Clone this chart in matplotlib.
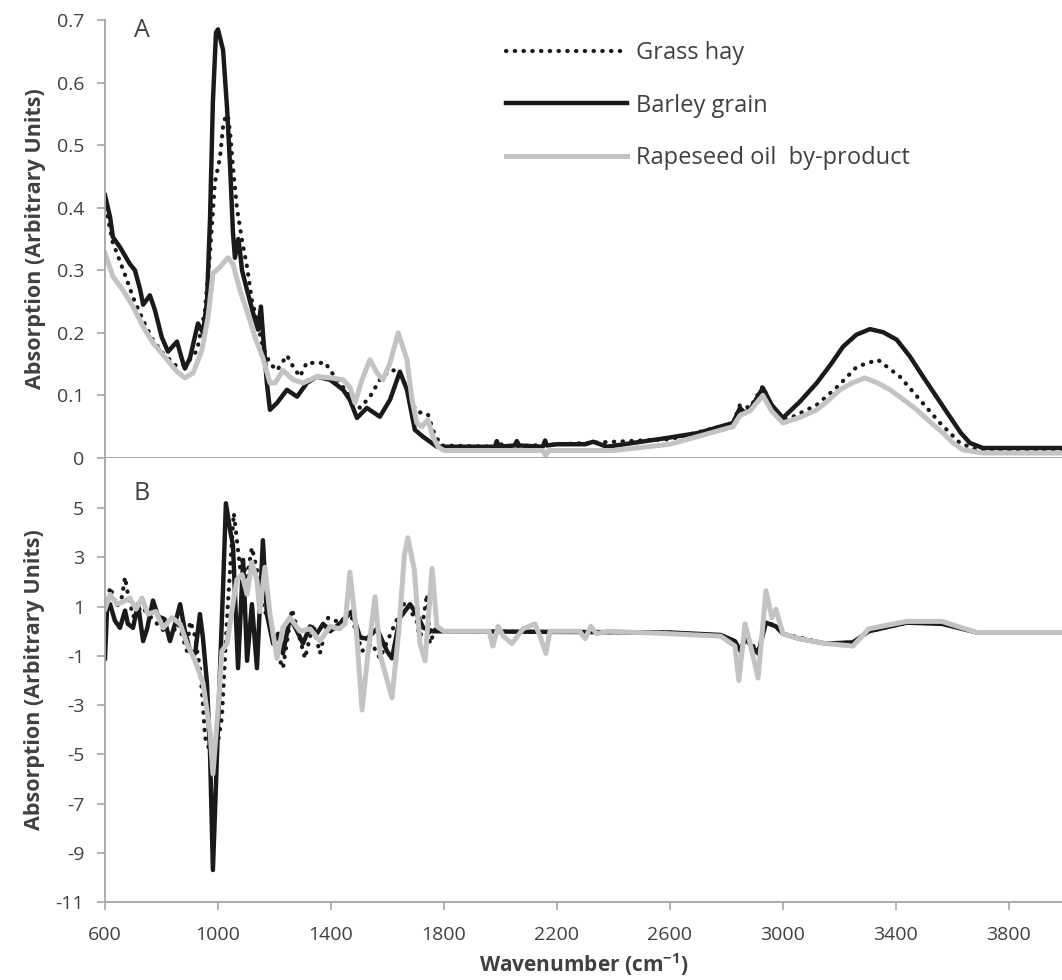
import numpy as np
import matplotlib
matplotlib.use("Agg")
import matplotlib.pyplot as plt

plt.rcParams['font.family'] = ['Open Sans', 'DejaVu Sans']
plt.rcParams['mathtext.fontset'] = 'custom'
plt.rcParams['mathtext.rm'] = 'Open Sans'
plt.rcParams['mathtext.bf'] = 'Open Sans:bold'

# panel A: (wavenumber, absorption)
grass_a = [(600, 0.40), (607, 0.39), (628, 0.343), (640, 0.33), (678, 0.284), (699, 0.257), (735, 0.22),
           (770, 0.188), (806, 0.167), (855, 0.146), (890, 0.151), (926, 0.172), (954, 0.236), (972, 0.33),
           (989, 0.44), (1007, 0.48), (1018, 0.53), (1032, 0.556), (1043, 0.52), (1053, 0.465), (1067, 0.40),
           (1085, 0.348), (1103, 0.305), (1120, 0.252), (1138, 0.22), (1159, 0.177), (1184, 0.151), (1209, 0.14),
           (1244, 0.164), (1266, 0.146), (1290, 0.13), (1315, 0.153), (1350, 0.151), (1379, 0.153), (1397, 0.14),
           (1443, 0.113), (1478, 0.093), (1503, 0.08), (1538, 0.098), (1573, 0.125), (1609, 0.14), (1627, 0.14),
           (1650, 0.13), (1675, 0.105), (1700, 0.075), (1722, 0.072), (1743, 0.07), (1765, 0.04), (1790, 0.02),
           (1990, 0.018), (2000, 0.024), (2010, 0.018), (2600, 0.03), (2823, 0.055), (2848, 0.085), (2883, 0.08),
           (2929, 0.115), (2960, 0.08), (3000, 0.062), (3036, 0.066), (3120, 0.085), (3191, 0.113), (3262, 0.146),
           (3336, 0.157), (3414, 0.13), (3485, 0.093), (3556, 0.056), (3627, 0.024), (3687, 0.013), (4000, 0.013)]

barley_a = [(600, 0.42), (618, 0.385), (628, 0.353), (653, 0.337), (688, 0.31), (706, 0.30), (724, 0.27),
            (735, 0.245), (759, 0.26), (777, 0.236), (801, 0.193), (823, 0.17), (855, 0.186), (873, 0.157),
            (883, 0.143), (901, 0.16), (929, 0.215), (947, 0.20), (961, 0.25), (972, 0.385), (982, 0.57),
            (993, 0.68), (1000, 0.685), (1018, 0.652), (1032, 0.56), (1043, 0.465), (1053, 0.36), (1060, 0.32),
            (1072, 0.35), (1078, 0.33), (1085, 0.30), (1103, 0.268), (1124, 0.232), (1142, 0.205), (1152, 0.242),
            (1159, 0.20), (1173, 0.12), (1184, 0.077), (1209, 0.088), (1244, 0.109), (1280, 0.098), (1315, 0.12),
            (1350, 0.13), (1397, 0.125), (1443, 0.109), (1467, 0.093), (1492, 0.064), (1527, 0.08), (1573, 0.066),
            (1609, 0.093), (1644, 0.138), (1669, 0.109), (1697, 0.045), (1726, 0.034), (1775, 0.018), (1800, 0.018),
            (1980, 0.018), (1987, 0.027), (1995, 0.018), (2050, 0.02), (2058, 0.027), (2066, 0.02), (2150, 0.018),
            (2158, 0.028), (2164, 0.02), (2200, 0.022), (2300, 0.022), (2328, 0.026), (2377, 0.018), (2589, 0.032),
            (2700, 0.04), (2823, 0.056), (2848, 0.08), (2865, 0.072), (2883, 0.077), (2929, 0.112), (2960, 0.085),
            (3000, 0.064), (3060, 0.09), (3120, 0.12), (3170, 0.15), (3213, 0.178), (3260, 0.197), (3308, 0.206),
            (3355, 0.201), (3403, 0.189), (3450, 0.162), (3496, 0.13), (3545, 0.097), (3591, 0.066), (3630, 0.04),
            (3662, 0.024), (3708, 0.016), (4000, 0.016)]

rapeseed_a = [(600, 0.327), (628, 0.29), (664, 0.268), (699, 0.242), (735, 0.21), (770, 0.184), (820, 0.157),
              (855, 0.138), (883, 0.128), (912, 0.136), (943, 0.172), (965, 0.226), (982, 0.295), (1007, 0.305),
              (1035, 0.32), (1053, 0.31), (1078, 0.268), (1113, 0.22), (1131, 0.193), (1159, 0.16), (1184, 0.12),
              (1202, 0.12), (1230, 0.14), (1266, 0.125), (1301, 0.12), (1350, 0.13), (1397, 0.128), (1443, 0.125),
              (1467, 0.113), (1485, 0.088), (1510, 0.125), (1538, 0.157), (1563, 0.136), (1584, 0.125), (1609, 0.152),
              (1638, 0.20), (1669, 0.157), (1687, 0.093), (1704, 0.056), (1722, 0.05), (1743, 0.061), (1761, 0.034),
              (1779, 0.018), (1800, 0.012), (2150, 0.012), (2160, 0.004), (2170, 0.012), (2400, 0.012), (2600, 0.022),
              (2823, 0.05), (2848, 0.068), (2883, 0.075), (2929, 0.10), (2960, 0.075), (3000, 0.056), (3060, 0.065),
              (3120, 0.077), (3160, 0.092), (3202, 0.109), (3245, 0.12), (3290, 0.128), (3335, 0.12), (3379, 0.109),
              (3425, 0.094), (3474, 0.077), (3520, 0.058), (3567, 0.04), (3600, 0.025), (3637, 0.013), (3708, 0.008),
              (4000, 0.008)]

# panel B
grass_b = [(600, 0.6), (618, 1.8), (642, 1.0), (660, 1.4), (671, 2.2), (681, 1.5), (700, 0.6), (730, 1.0),
           (760, 0.6), (801, 0.1), (830, -0.2), (860, 0.3), (890, -0.8), (901, 0.4), (915, 0.0), (936, -1.5),
           (947, -3.0), (954, -4.3), (975, -5.0), (1000, -4.5), (1014, -3.5), (1025, -1.0), (1035, 1.1), (1050, 3.8),
           (1056, 4.8), (1067, 3.7), (1078, 2.6), (1085, 2.9), (1103, 2.2), (1120, 3.4), (1138, 2.5), (1159, 0.9),
           (1184, 0.5), (1209, -0.9), (1230, -1.5), (1262, 0.9), (1308, -1.1), (1337, 0.3), (1361, -0.9), (1390, 0.55),
           (1432, 0.35), (1467, 0.8), (1510, -0.8), (1545, -0.5), (1573, -1.1), (1615, 0.0), (1662, 1.2), (1704, 0.4),
           (1715, -0.4), (1740, 1.5), (1750, -0.5), (1770, 0.1), (1800, 0.0), (2600, -0.05), (2800, -0.2),
           (2850, -0.7), (2870, -0.3), (2912, -0.8), (2940, 0.4), (2975, 0.2), (3000, -0.1), (3152, -0.5),
           (3248, -0.45), (3304, 0.0), (3439, 0.35), (3563, 0.35), (3687, -0.05), (4000, -0.05)]

barley_b = [(600, -1.1), (607, 0.84), (618, 1.1), (635, 0.43), (653, 0.14), (671, 0.84), (681, 0.3), (699, 0.14),
            (717, 1.1), (735, -0.4), (749, 0.1), (770, 1.25), (788, 0.6), (810, 0.5), (830, -0.4), (848, 0.3),
            (866, 1.1), (883, 0.0), (901, -0.8), (919, -0.9), (936, 0.7), (947, -0.3), (961, -2.1), (972, -5.0),
            (982, -9.7), (992, -6.5), (1007, -1.6), (1018, 1.8), (1028, 5.2), (1043, 4.1), (1053, 3.5), (1071, -1.5),
            (1089, 2.9), (1103, -1.2), (1120, 1.1), (1138, -1.5), (1159, 3.7), (1173, 0.7), (1195, -0.5),
            (1213, -0.1), (1230, -0.9), (1255, 0.55), (1280, 0.0), (1301, -0.5), (1326, 0.2), (1350, -0.1),
            (1372, 0.3), (1397, 0.0), (1430, 0.3), (1474, 0.8), (1503, -0.25), (1527, -0.3), (1563, 0.1),
            (1598, -0.8), (1616, -1.1), (1644, 0.55), (1680, 1.1), (1708, 0.6), (1726, 0.15), (1761, 0.0),
            (1800, 0.0), (2600, -0.05), (2780, -0.15), (2830, -0.4), (2850, -0.8), (2866, -0.3), (2890, -0.6),
            (2912, -0.9), (2940, 0.35), (2975, 0.2), (3000, -0.1), (3057, -0.3), (3152, -0.5), (3248, -0.45),
            (3304, 0.0), (3439, 0.35), (3563, 0.3), (3687, -0.05), (4000, -0.05)]

rapeseed_b = [(600, 0.9), (618, 1.5), (642, 1.1), (665, 1.2), (688, 1.35), (710, 0.9), (731, 1.35), (752, 0.7),
              (780, 0.8), (806, 0.14), (837, 0.55), (866, 0.3), (890, -0.5), (919, -1.2), (947, -2.1), (972, -4.1),
              (982, -5.8), (1000, -3.2), (1014, -0.8), (1032, -0.5), (1053, 1.1), (1067, 2.1), (1085, 2.3),
              (1103, 1.5), (1120, 2.8), (1138, 2.06), (1148, 0.8), (1166, 2.6), (1184, 0.7), (1209, -1.1),
              (1230, 0.15), (1255, 0.55), (1290, 0.0), (1326, 0.1), (1361, -0.4), (1397, 0.2), (1430, 0.1),
              (1450, 0.3), (1467, 2.4), (1490, 0.0), (1510, -3.2), (1530, -1.0), (1556, 1.4), (1575, -1.0),
              (1616, -2.7), (1640, 0.0), (1660, 3.1), (1672, 3.8), (1695, 2.5), (1715, -0.5), (1733, -1.2),
              (1758, 2.55), (1775, 0.2), (1800, 0.0), (1960, 0.0), (1973, -0.6), (1992, 0.2), (2010, -0.2),
              (2041, -0.5), (2080, 0.1), (2122, 0.3), (2140, -0.2), (2161, -0.9), (2175, 0.0), (2280, 0.0),
              (2300, -0.3), (2320, 0.2), (2340, -0.1), (2380, 0.0), (2600, -0.1), (2780, -0.2), (2830, -0.6),
              (2844, -2.0), (2866, 0.3), (2884, -0.5), (2912, -1.9), (2940, 1.65), (2961, 0.55), (2975, 0.9),
              (3000, -0.1), (3057, -0.3), (3152, -0.5), (3248, -0.6), (3304, 0.1), (3439, 0.4), (3563, 0.4),
              (3687, -0.05), (4000, -0.05)]

labels = ['Grass hay', 'Barley grain', 'Rapeseed oil  by-product']
x_ticks = [600, 1000, 1400, 1800, 2200, 2600, 3000, 3400, 3800]
a_ticks = [0, 0.1, 0.2, 0.3, 0.4, 0.5, 0.6, 0.7]
b_ticks = [-11, -9, -7, -5, -3, -1, 1, 3, 5]

axis_col = '#a6a6a6'
text_col = '#404040'
styles = [dict(color='#1a1a1a', lw=3.0, ls=(0, (0.1, 2.0)), dash_capstyle='round'),
          dict(color='#1a1a1a', lw=3.2, ls='-'),
          dict(color='#c3c3c3', lw=3.6, ls='-')]

W, H = 1062, 980
fig = plt.figure(figsize=(W / 100, H / 100), dpi=100)
ax_a = fig.add_axes([105 / W, 1 - 458 / H, 1 - 105 / W, (458 - 20) / H])
ax_b = fig.add_axes([105 / W, 1 - 902 / H, 1 - 105 / W, (902 - 458) / H])


def style_axis(ax):
    for s in ['top', 'right']:
        ax.spines[s].set_visible(False)
    for s in ['left', 'bottom']:
        ax.spines[s].set_color(axis_col)
        ax.spines[s].set_linewidth(1.3)
    ax.tick_params(direction='out', length=6, width=1.2, color=axis_col,
                   labelcolor=text_col, labelsize=14)
    ax.tick_params(axis='y', pad=9)
    ax.tick_params(axis='x', pad=11)
    ax.set_xlim(600, 3988)
    ax.set_xticks(x_ticks)


for ax, series in [(ax_a, [grass_a, barley_a, rapeseed_a]), (ax_b, [grass_b, barley_b, rapeseed_b])]:
    for data, st, lab in zip(series, styles, labels):
        x, y = np.array(data).T
        ax.plot(x, y, label=lab, solid_joinstyle='round', **st)
    style_axis(ax)

ax_a.set_ylim(0, 0.7)
ax_a.set_yticks(a_ticks)
ax_a.set_yticklabels(['0'] + ['%.1f' % v for v in a_ticks[1:]])
ax_a.tick_params(axis='x', labelbottom=False)

ax_b.set_ylim(-11, 7.04)
ax_b.set_yticks(b_ticks)
ax_b.set_yticklabels([str(v) for v in b_ticks])
ax_b.set_xticklabels([str(v) for v in x_ticks])

for ax in (ax_a, ax_b):
    ax.set_ylabel('Absorption (Arbitrary Units)', fontsize=15.5, fontweight='bold',
                  color=text_col, labelpad=8)
ax_b.set_xlabel(r'Wavenumber (cm$^{\mathbf{-1}}$)', fontsize=15, fontweight='bold',
                color=text_col, va='center')
ax_b.xaxis.set_label_coords(0.5, -63 / 444)

ax_a.text(0.03, 0.975, 'A', transform=ax_a.transAxes, fontsize=18, color=text_col, va='center')
ax_b.text(0.03, 0.92, 'B', transform=ax_b.transAxes, fontsize=18, color=text_col, va='center')

leg = ax_a.legend(loc='upper left', bbox_to_anchor=(0.397, 1.0), frameon=False, fontsize=17,
                  handlelength=5.1, handletextpad=0.4, labelspacing=1.2, labelcolor=text_col)

fig.savefig('out.png', dpi=100)
